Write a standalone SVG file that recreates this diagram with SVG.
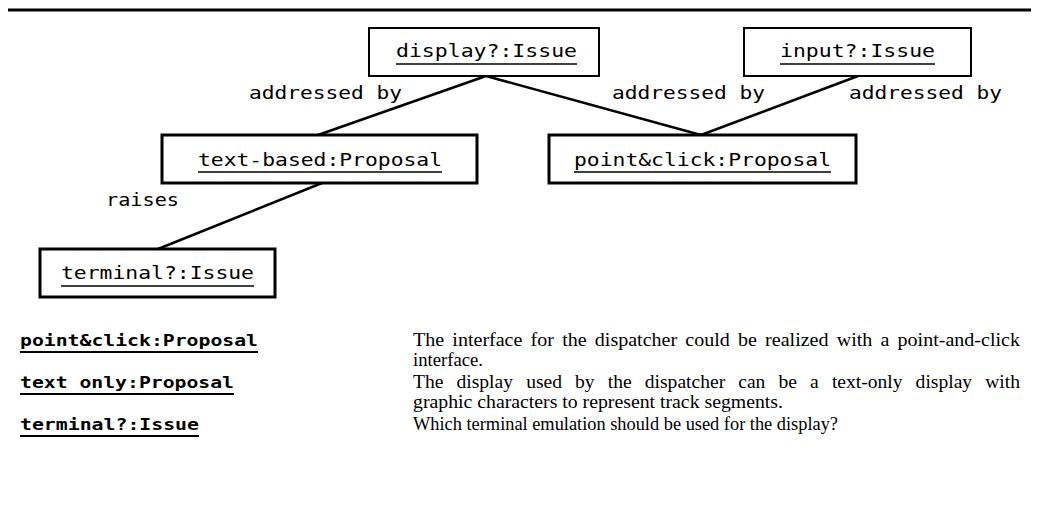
<svg xmlns="http://www.w3.org/2000/svg" width="1037" height="523" viewBox="0 0 1037 523">
<style>
.box{fill:#fff;stroke:#000}
.thin{stroke-width:2}
.thick{stroke-width:3}
.m{font-family:"DejaVu Sans Mono","Liberation Mono",monospace;font-size:17px;fill:#000}
.mb{font-family:"DejaVu Sans Mono","Liberation Mono",monospace;font-size:16px;font-weight:bold;fill:#000}
.s{font-family:"Liberation Serif","Times New Roman",serif;font-size:19px;fill:#000}
.ul{stroke:#000;stroke-width:1.6}
.ulb{stroke:#000;stroke-width:2.2}
.conn line{stroke:#000;stroke-width:2.5}
</style>
<rect width="1037" height="523" fill="#fff"/>
<line x1="8" y1="10" x2="1031" y2="10" stroke="#000" stroke-width="3"/>
<g id="connectors" class="conn">
<line x1="486" y1="76" x2="318" y2="135"/>
<line x1="486" y1="76" x2="701" y2="135"/>
<line x1="858" y1="76" x2="701" y2="135"/>
<line x1="322" y1="183" x2="158" y2="249"/>
</g>
<g id="labels">
<text class="m" x="249" y="99" textLength="153" lengthAdjust="spacingAndGlyphs">addressed by</text>
<text class="m" x="612" y="99" textLength="153" lengthAdjust="spacingAndGlyphs">addressed by</text>
<text class="m" x="849" y="99" textLength="153" lengthAdjust="spacingAndGlyphs">addressed by</text>
<text class="m" x="106" y="206" textLength="73" lengthAdjust="spacingAndGlyphs">raises</text>
</g>
<g id="display">
<rect class="box thin" x="369" y="28" width="230" height="48"/>
<text class="m" x="396" y="57" textLength="181" lengthAdjust="spacingAndGlyphs">display?:Issue</text>
<line class="ul" x1="396" y1="64" x2="577" y2="64"/>
</g>
<g id="input">
<rect class="box thin" x="744" y="28" width="227" height="48"/>
<text class="m" x="780" y="57" textLength="155" lengthAdjust="spacingAndGlyphs">input?:Issue</text>
<line class="ul" x1="780" y1="64" x2="935" y2="64"/>
</g>
<g id="textbased">
<rect class="box thick" x="162" y="135" width="315" height="48"/>
<text class="m" x="198" y="166" textLength="244" lengthAdjust="spacingAndGlyphs">text-based:Proposal</text>
<line class="ul" x1="198" y1="172" x2="442" y2="172"/>
</g>
<g id="pointclick">
<rect class="box thick" x="549" y="135" width="307" height="48"/>
<text class="m" x="574" y="166" textLength="257" lengthAdjust="spacingAndGlyphs">point&amp;click:Proposal</text>
<line class="ul" x1="574" y1="172" x2="831" y2="172"/>
</g>
<g id="terminal">
<rect class="box thick" x="40" y="249" width="235" height="48"/>
<text class="m" x="61" y="279" textLength="193" lengthAdjust="spacingAndGlyphs">terminal?:Issue</text>
<line class="ul" x1="61" y1="286" x2="254" y2="286"/>
</g>
<g id="glossary">
<text class="mb" x="20" y="346" textLength="238" lengthAdjust="spacingAndGlyphs">point&amp;click:Proposal</text>
<line class="ulb" x1="20" y1="352" x2="258" y2="352"/>
<text class="mb" x="20" y="388" textLength="214" lengthAdjust="spacingAndGlyphs">text only:Proposal</text>
<line class="ulb" x1="20" y1="394" x2="234" y2="394"/>
<text class="mb" x="20" y="430" textLength="179" lengthAdjust="spacingAndGlyphs">terminal?:Issue</text>
<line class="ulb" x1="20" y1="436" x2="199" y2="436"/>
<text class="s" x="413" y="346" word-spacing="3" textLength="607" lengthAdjust="spacingAndGlyphs">The interface for the dispatcher could be realized with a point-and-click</text>
<text class="s" x="413" y="366" textLength="70" lengthAdjust="spacingAndGlyphs">interface.</text>
<text class="s" x="413" y="388" word-spacing="8" textLength="607" lengthAdjust="spacingAndGlyphs">The display used by the dispatcher can be a text-only display with</text>
<text class="s" x="413" y="408" textLength="370" lengthAdjust="spacingAndGlyphs">graphic characters to represent track segments.</text>
<text class="s" x="413" y="430" textLength="425" lengthAdjust="spacingAndGlyphs">Which terminal emulation should be used for the display?</text>
</g>
</svg>
